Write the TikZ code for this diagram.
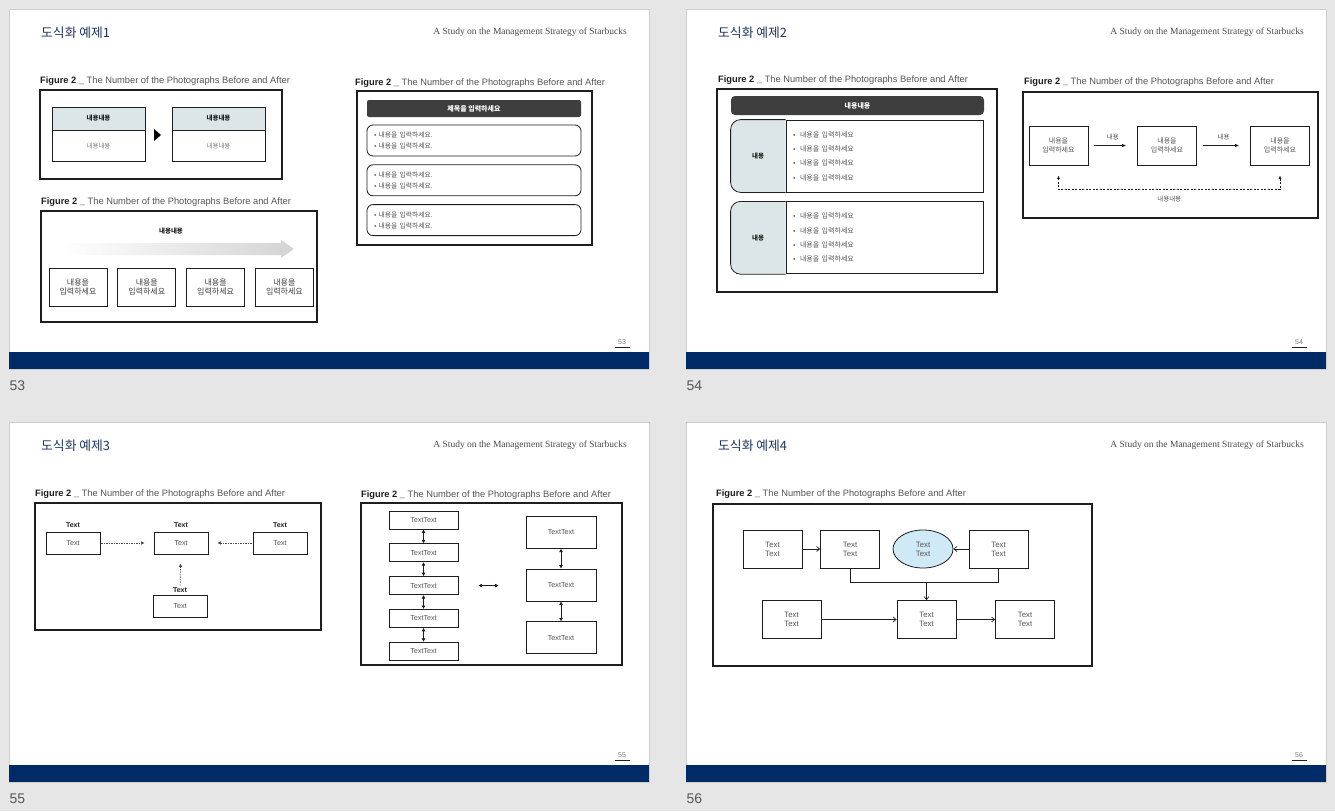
\documentclass[tikz,border=0pt]{standalone}
\usepackage{fontspec}
\setmainfont{Liberation Sans}
\newfontfamily\hangul{Noto Sans CJK KR}
\newfontfamily\runfont{Liberation Serif}
\usetikzlibrary{arrows.meta,positioning,calc,shapes.geometric}
\definecolor{deskgray}{RGB}{230,230,230}
\definecolor{slideedge}{RGB}{205,205,205}
\definecolor{barnavy}{RGB}{0,43,102}
\definecolor{titlenavy}{RGB}{28,52,96}
\definecolor{headmint}{RGB}{220,229,231}
\definecolor{bardark}{RGB}{62,62,62}
\definecolor{ovalblue}{RGB}{207,233,247}
\definecolor{ink}{RGB}{30,30,30}
\definecolor{softink}{RGB}{85,85,85}
\definecolor{paleink}{RGB}{125,125,125}
\newcommand{\capline}{{\bfseries Figure 2 \_}\ \textcolor{softink}{The Number of the Photographs Before and After}}
\tikzset{
	slidetitle/.style={anchor=west,inner sep=0pt,text=titlenavy,font=\hangul\fontsize{12.8}{14}\selectfont},
	runhead/.style={anchor=east,inner sep=0pt,text=ink!80,font=\runfont\fontsize{9.5}{11}\selectfont},
	pagenum/.style={inner sep=0pt,text=paleink,font=\fontsize{7}{8}\selectfont},
	deckno/.style={anchor=west,inner sep=0pt,text=ink!75,font=\fontsize{14}{16}\selectfont},
	figcap/.style={anchor=west,inner sep=0pt,text=ink,font=\fontsize{9.3}{11}\selectfont},
	panel/.style={draw=ink,line width=1.1pt},
	hdcell/.style={draw=ink,line width=0.8pt,fill=headmint,minimum width=93,minimum height=23,
		inner sep=0pt,text=ink,font=\hangul\bfseries\fontsize{6.5}{8}\selectfont},
	bodycell/.style={draw=ink,line width=0.8pt,minimum width=93,minimum height=31,
		inner sep=0pt,text=paleink,font=\hangul\fontsize{6.5}{8}\selectfont},
	stepcell/.style={draw=ink,line width=0.8pt,minimum width=58,minimum height=38,inner sep=0pt,
		align=center,text=ink!85,font=\hangul\fontsize{8}{9.5}\selectfont},
	boldnote/.style={inner sep=1pt,text=ink,font=\hangul\bfseries\fontsize{6.5}{8}\selectfont},
	darkbar/.style={fill=bardark,rounded corners=2pt,inner sep=0pt,text=white,
		font=\hangul\bfseries\fontsize{7}{8}\selectfont},
	notecell/.style={draw=ink,line width=0.8pt,rounded corners=6pt,text width=200,inner xsep=7pt,
		minimum height=31,align=left,text=softink,font=\hangul\fontsize{6.8}{11}\selectfont},
	listcell/.style={draw=ink,line width=0.8pt,minimum height=72,text width=183,inner xsep=7pt,
		align=left,text=softink,font=\hangul\fontsize{7}{14.3}\selectfont},
	tabshape/.style={fill=headmint,draw=ink,line width=0.8pt,rounded corners=10pt},
	flowcell/.style={draw=ink,line width=0.8pt,minimum width=59,minimum height=39,inner sep=0pt,
		align=center,text=softink,font=\hangul\fontsize{7}{8.5}\selectfont},
	arrowtag/.style={inner sep=1pt,text=softink,font=\hangul\fontsize{6.5}{7}\selectfont},
	flowarrow/.style={-{Latex[length=4pt,width=3.5pt]},line width=0.7pt,draw=ink,
		shorten <=6pt,shorten >=11pt},
	loopback/.style={{Latex[length=3.5pt,width=3pt]}-{Latex[length=3.5pt,width=3pt]},
		line width=0.7pt,draw=ink,dash pattern=on 2pt off 1.5pt,shorten <=10pt,shorten >=10pt},
	textcell/.style={draw=ink,line width=0.8pt,minimum width=54,minimum height=22,inner sep=0pt,
		text=softink,font=\fontsize{7.2}{8}\selectfont},
	textlabel/.style={inner sep=1pt,text=ink,font=\bfseries\fontsize{7}{8}\selectfont},
	dotflow/.style={-{Latex[length=3.5pt,width=3.5pt]},line width=0.7pt,draw=ink!80,
		dash pattern=on 1.5pt off 1pt,shorten <=1pt,shorten >=9pt},
	stackcell/.style={draw=ink,line width=0.8pt,minimum width=69,minimum height=18,inner sep=0pt,
		text=softink,font=\fontsize{7.2}{8}\selectfont},
	towercell/.style={stackcell,minimum width=70,minimum height=32},
	linkflow/.style={{Latex[length=3.5pt,width=4pt]}-{Latex[length=3.5pt,width=4pt]},
		line width=0.9pt,draw=ink},
	pairbox/.style={draw=ink,line width=0.8pt,minimum width=59,minimum height=38,inner sep=0pt,
		align=center,text=softink,font=\fontsize{7.8}{9}\selectfont},
	pairoval/.style={pairbox,ellipse,fill=ovalblue,minimum width=60},
	barb/.style={-{Straight Barb[length=3pt,width=5pt]},line width=0.7pt,draw=ink},
	joint/.style={line width=0.7pt,draw=ink},
}

\begin{document}
\begin{tikzpicture}[x=1pt,y=-1pt]
	\fill[deskgray] (0,0) rectangle (1335,811);
	\useasboundingbox (0,0) rectangle (1335,811);
	
	% the four slides: page, footer band, running head, numbers
	\foreach \sx/\sy/\pg/\ex in {9/9/53/1,686/9/54/2,9/422/55/3,686/422/56/4}{
		\draw[fill=white,draw=slideedge,line width=0.8pt] (\sx,\sy) rectangle ++(640,360);
		\fill[barnavy] (\sx,\sy+343) rectangle ++(640,17);
		\node[slidetitle] at (\sx+32,\sy+24) {도식화 예제\ex};
		\node[runhead] at (\sx+618,\sy+23) {A Study on the Management Strategy of Starbucks};
		\node[pagenum] at (\sx+613,\sy+333) {\pg};
		\draw[ink,line width=0.6pt] (\sx+606,\sy+338) -- ++(15,0);
		\node[deckno] at (\sx+0.5,\sy+377) {\pg};
	}
	
	% --- slide 53
	\node[figcap] (capA) at (40,81) {\capline};
	\draw[panel] (40,90) rectangle (282,179);
	\node[hdcell] (beforeHead) at (98.5,118.5) {내용내용};
	\node[bodycell,below=0pt of beforeHead] (beforeBody) {내용내용};
	\node[hdcell] (afterHead) at (218.5,118.5) {내용내용};
	\node[bodycell,below=0pt of afterHead] (afterBody) {내용내용};
	\coordinate (swap) at (157.5,135);
	\fill[black] ($(swap)+(-3.5,-6)$) -- ($(swap)+(3.5,0)$) -- ($(swap)+(-3.5,6)$) -- cycle;
	
	\node[figcap] (capB) at (41,202) {\capline};
	\draw[panel] (41,211) rectangle (317,322);
	\node[boldnote] (stageTitle) at (171,231) {내용내용};
	\shade[left color=white,right color=black!17]
	(61,243) -- (281,243) -- (281,240) -- (294,249) -- (281,258) -- (281,255) -- (61,255) -- cycle;
	\node[stepcell] (stepA) at (78,287) {내용을\\입력하세요};
	\node[stepcell,right=10pt of stepA] (stepB) {내용을\\입력하세요};
	\node[stepcell,right=10pt of stepB] (stepC) {내용을\\입력하세요};
	\node[stepcell,right=10pt of stepC] (stepD) {내용을\\입력하세요};
	
	\node[figcap] (capC) at (355,83) {\capline};
	\draw[panel] (357,91) rectangle (592,245);
	\node[darkbar,minimum width=214,minimum height=17] (noteTitle) at (474,108.5) {제목을 입력하세요};
	\node[notecell] (noteA) at (474,140.5) {• 내용을 입력하세요.\\• 내용을 입력하세요.};
	\node[notecell,below=8pt of noteA] (noteB) {• 내용을 입력하세요.\\• 내용을 입력하세요.};
	\node[notecell,below=8pt of noteB] (noteC) {• 내용을 입력하세요.\\• 내용을 입력하세요.};
	
	% --- slide 54
	\node[figcap] (capD) at (718,80) {\capline};
	\draw[panel] (717,89) rectangle (997,292);
	\node[darkbar,rounded corners=4pt,minimum width=253,minimum height=19] (listTitle) at (857.5,105.5) {내용내용};
	\node[listcell] (listA) at (884.5,156) {•~~내용을 입력하세요\\•~~내용을 입력하세요\\•~~내용을 입력하세요\\•~~내용을 입력하세요};
	\node[listcell,below=9pt of listA] (listB) {•~~내용을 입력하세요\\•~~내용을 입력하세요\\•~~내용을 입력하세요\\•~~내용을 입력하세요};
	\draw[tabshape] (listA.north west) -- ++(-55,0) |- (listA.south west);
	\draw[tabshape] (listB.north west) -- ++(-55,0) |- (listB.south west);
	\node[boldnote] (tabA) at ($(listA.west)+(-27.5,0)$) {내용};
	\node[boldnote] (tabB) at ($(listB.west)+(-27.5,0)$) {내용};
	
	\node[figcap] (capE) at (1024,82) {\capline};
	\draw[panel] (1023,92) rectangle (1318,218);
	\node[flowcell] (flowA) at (1058.5,145.5) {내용을\\입력하세요};
	\node[flowcell] (flowB) at (1167,145.5) {내용을\\입력하세요};
	\node[flowcell] (flowC) at (1280,145.5) {내용을\\입력하세요};
	\draw[flowarrow] (flowA) -- node[arrowtag,above=4pt] {내용} (flowB);
	\draw[flowarrow] (flowB) -- node[arrowtag,above=4pt] {내용} (flowC);
	\draw[loopback] (flowC.south) -- ++(0,24) -| node[pos=0.25,arrowtag,below=5pt] {내용내용} (flowA.south);
	
	% --- slide 55
	\node[figcap] (capF) at (35,494) {\capline};
	\draw[panel] (35,503) rectangle (321,630);
	\node[textcell] (srcLeft) at (73,543) {Text};
	\node[textcell] (hub) at (181,543) {Text};
	\node[textcell] (srcRight) at (280,543) {Text};
	\node[textcell] (srcBelow) at (180,606) {Text};
	\node[textlabel,above=3pt of srcLeft] (tagLeft) {Text};
	\node[textlabel,above=3pt of hub] (tagHub) {Text};
	\node[textlabel,above=3pt of srcRight] (tagRight) {Text};
	\node[textlabel,above=1pt of srcBelow] (tagBelow) {Text};
	\draw[dotflow] (srcLeft) -- (hub);
	\draw[dotflow] (srcRight) -- (hub);
	\draw[dotflow] (tagBelow) -- (hub);
	
	\node[figcap] (capG) at (361,495) {\capline};
	\draw[panel] (361,503) rectangle (622,665);
	\node[stackcell] (stackA) at (423.5,520) {TextText};
	\node[stackcell,below=14pt of stackA] (stackB) {TextText};
	\node[stackcell,below=14pt of stackB] (stackC) {TextText};
	\node[stackcell,below=14pt of stackC] (stackD) {TextText};
	\node[stackcell,below=14pt of stackD] (stackE) {TextText};
	\node[towercell] (towerB) at (561,585) {TextText};
	\node[towercell,above=20pt of towerB] (towerA) {TextText};
	\node[towercell,below=20pt of towerB] (towerC) {TextText};
	\draw[linkflow] (stackA) -- (stackB);
	\draw[linkflow] (stackB) -- (stackC);
	\draw[linkflow] (stackC) -- (stackD);
	\draw[linkflow] (stackD) -- (stackE);
	\draw[linkflow] (towerA) -- (towerB);
	\draw[linkflow] (towerB) -- (towerC);
	\draw[linkflow,shorten <=20pt,shorten >=27pt] (stackC.east) -- (stackC.east -| towerB.west);
	
	% --- slide 56
	\node[figcap] (capH) at (716,494) {\capline};
	\draw[panel] (713,504) rectangle (1092,666);
	\node[pairbox] (inA) at (772.5,549) {Text\\Text};
	\node[pairbox] (inB) at (850,549) {Text\\Text};
	\node[pairoval] (core) at (923,549) {Text\\Text};
	\node[pairbox] (inD) at (998.5,549) {Text\\Text};
	\node[pairbox] (outA) at (791.5,619.5) {Text\\Text};
	\node[pairbox] (outB) at (926.5,619.5) {Text\\Text};
	\node[pairbox] (outC) at (1025,619.5) {Text\\Text};
	\draw[barb] (inA) -- (inB);
	\draw[barb] (inD) -- (core);
	\draw[joint] (inB.south) -- ++(0,14) coordinate (merge) -| (inD.south);
	\draw[barb] (merge -| outB.north) -- (outB.north);
	\draw[barb] (outA) -- (outB);
	\draw[barb] (outB) -- (outC);
\end{tikzpicture}
\end{document}
